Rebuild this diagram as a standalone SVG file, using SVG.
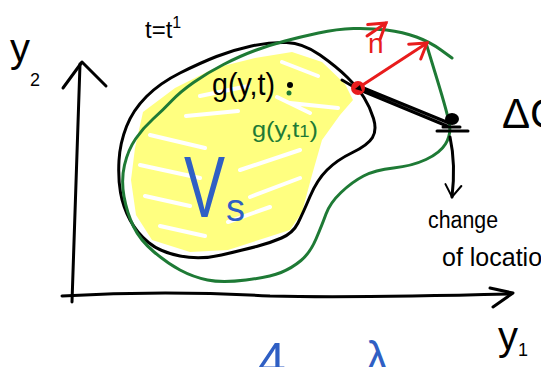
<svg xmlns="http://www.w3.org/2000/svg" width="541" height="367" viewBox="0 0 541 367">
<style>
.ink{fill:none;stroke:#000;stroke-width:3;stroke-linecap:round;stroke-linejoin:round}
.grn{fill:none;stroke:#1e7a35;stroke-width:3;stroke-linecap:round;stroke-linejoin:round}
.red{fill:none;stroke:#e81c1c;stroke-width:3;stroke-linecap:round;stroke-linejoin:round}
.gap{fill:none;stroke:#fff;stroke-width:4;stroke-linecap:round}
.hand{font-family:"Liberation Sans",Arial,sans-serif}
</style>
<defs>
<marker id="arR" viewBox="-20 -12 24 24" refX="0" refY="0" markerWidth="24" markerHeight="24" markerUnits="userSpaceOnUse" orient="auto">
<path d="M-16,-9 L0,0 L-14,10" fill="none" stroke="#e81c1c" stroke-width="3" stroke-linecap="round"/>
</marker>
<marker id="arK" viewBox="-20 -12 24 24" refX="0" refY="0" markerWidth="24" markerHeight="24" markerUnits="userSpaceOnUse" orient="auto">
<path d="M-12,-8 L0,0 L-12,8" fill="none" stroke="#000" stroke-width="2" stroke-linecap="round"/>
</marker>
</defs>
<rect width="541" height="367" fill="#fff"/>

<g id="yellow-fill">
<path d="M143,112 L175,88 L215,68 L255,58 L292,52 L322,62 L345,84 L353,100 L340,115 L322,140 L312,175 L302,212 L290,230 L265,238 L228,250 L190,252 L152,240 L136,215 L131,180 L135,148 Z" fill="#ffff80"/>
<path class="gap" d="M150,135 L205,148 M140,165 L200,178 M145,196 L190,206 M160,226 L205,236 M240,170 L300,150 M250,197 L300,178 M228,222 L270,207 M200,96 L248,86 M282,62 L318,76 M290,103 L338,108 M186,116 L238,111 M277,97 L310,113"/>
</g>

<g id="axes">
<path class="ink" d="M80,64 C78,140 75,220 72,302"/>
<path class="ink" d="M63,88 L82,62 L106,86"/>
<path class="ink" d="M62,296 C130,292 200,292 270,296 C350,298 430,296 510,294"/>
<path class="ink" d="M490,288 L513,293 L493,307"/>
<text class="hand" x="10" y="62" font-size="40">y<tspan font-size="18" dy="24">2</tspan></text>
<text class="hand" x="498" y="350" font-size="40">y<tspan font-size="18" dy="6">1</tspan></text>
<text class="hand" x="145" y="38" font-size="24">t=t<tspan font-size="16" dy="-10">1</tspan></text>
</g>

<g id="region-t">
<path class="ink" d="M286.5,42.5 Q303,43 320,55 Q337,67 347.5,77.5 Q358,88 364,97.5 Q370,107 373.5,118.5 Q377,130 372.5,137.5 Q368,145 352.5,152.5 Q337,160 327,170 Q317,180 310,196.5 Q303,213 298,223 Q293,233 281.5,238 Q270,243 256.5,246.5 Q243,250 221.5,255 Q200,260 180,256 Q160,252 148.5,242.5 Q137,233 130,220 Q123,207 120.5,192.5 Q118,178 119,160.5 Q120,143 126.5,126.5 Q133,110 146.5,96.5 Q160,83 180,73 Q200,63 216.5,56.5 Q233,50 251.5,46 Q270,42 286.5,42.5 Z"/>
<text class="hand" x="212" y="95" font-size="32" textLength="63" lengthAdjust="spacingAndGlyphs">g(y,t)</text>
<circle cx="290" cy="85" r="3" fill="#000"/>
</g>

<g id="region-t1">
<path class="grn" d="M452,58 L441,50 Q430,42 416.5,37 Q403,32 386.5,30 Q370,28 353.5,28.5 Q337,29 318.5,33 Q300,37 285,41 Q270,45 255,50.5 Q240,56 223.5,64.5 Q207,73 193.5,82.5 Q180,92 171.5,101 Q163,110 153,119 Q143,128 135.5,139 Q128,150 124.5,165 Q121,180 124,196.5 Q127,213 133.5,226.5 Q140,240 153.5,251.5 Q167,263 180,270 Q193,277 207.5,280 Q222,283 246,280 Q270,277 281,272.5 Q292,268 301,260.5 Q310,253 316,239 Q322,225 326,214 Q330,203 341,192.5 Q352,182 363.5,176 Q375,170 393.5,168 Q412,166 426,159.5 Q440,153 445.5,144 Q451,135 449.5,125 Q448,115 437,79 L426,43"/>
<text class="hand" x="252" y="137" font-size="22" fill="#1e7a35" textLength="66" lengthAdjust="spacingAndGlyphs">g(y,t<tspan font-size="16">1</tspan>)</text>
<circle cx="289" cy="93" r="2.5" fill="#1e7a35"/>
</g>

<g id="vs-label">
<text class="hand" transform="translate(184,217) scale(0.7,1)" font-size="88" fill="#2f5fc4">V</text>
<text class="hand" x="226" y="221" font-size="38" fill="#2f5fc4">s</text>
</g>

<g id="connectors">
<path class="red" d="M358,88 L427,43" marker-end="url(#arR)"/>
<path class="red" d="M367,36 L386,23" marker-end="url(#arR)"/>
<path class="ink" stroke-width="1.8" d="M360,90 L447,126 M361,87 L449,123 M342,80 L354,87"/>
<path class="ink" stroke-width="2" d="M450,137 C455,160 454,180 452,197" marker-end="url(#arK)"/>
</g>

<g id="point-start">
<circle cx="358" cy="88" r="7" fill="#e81c1c"/>
<path d="M355,89 L360,85 L362,91 Z" fill="#000"/>
<text class="hand" x="368" y="53" font-size="28" fill="#e81c1c">n</text>
</g>

<g id="point-end">
<ellipse cx="452" cy="119" rx="7" ry="6" fill="#000"/>
<path class="ink" d="M437,131 L468,131 M443,127 L460,127"/>
<text class="hand" x="502" y="128" font-size="42">ΔG</text>
<text class="hand" x="428" y="228" font-size="23" textLength="70" lengthAdjust="spacingAndGlyphs">change</text>
<text class="hand" x="442" y="266" font-size="25">of location</text>
</g>

<g id="bottom-marks">
<text class="hand" x="258" y="378" font-size="50" fill="#2f5fc4">4</text>
<text class="hand" x="366" y="372" font-size="44" fill="#2f5fc4">λ</text>
</g>
</svg>
